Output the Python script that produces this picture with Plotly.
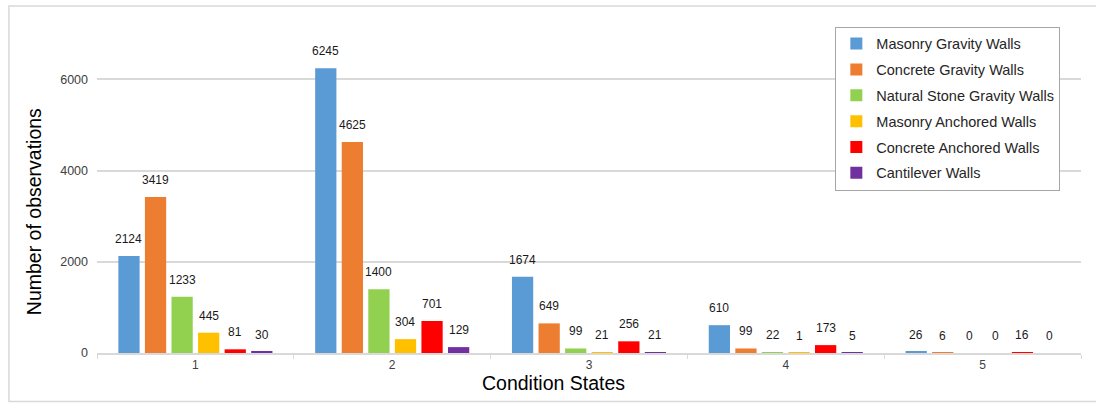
import plotly.graph_objects as go

# Observation counts per condition state, by wall type
states = ["1", "2", "3", "4", "5"]
series_names = [
    "Masonry Gravity Walls",
    "Concrete Gravity Walls",
    "Natural Stone Gravity Walls",
    "Masonry Anchored Walls",
    "Concrete Anchored Walls",
    "Cantilever Walls",
]
masonry_gravity = [2124, 6245, 1674, 610, 26]
concrete_gravity = [3419, 4625, 649, 99, 6]
natural_stone_gravity = [1233, 1400, 99, 22, 0]
masonry_anchored = [445, 304, 21, 1, 0]
concrete_anchored = [81, 701, 256, 173, 16]
cantilever = [30, 129, 21, 5, 0]

series_values = [
    masonry_gravity,
    concrete_gravity,
    natural_stone_gravity,
    masonry_anchored,
    concrete_anchored,
    cantilever,
]
colors = ["#5B9BD5", "#ED7D31", "#92D050", "#FFC000", "#FF0000", "#7030A0"]

BARGAP = 0.19
BARGROUPGAP = 0.2
FONT = "Liberation Sans, Arial, sans-serif"

fig = go.Figure()
n = len(series_names)
slot = (1 - BARGAP) / n
annotations = []
for i, (name, vals, col) in enumerate(zip(series_names, series_values, colors)):
    fig.add_trace(go.Bar(
        x=states, y=vals, name=name, legendgroup=name,
        marker=dict(color=col, line=dict(width=0)),
    ))
    offset = (i - (n - 1) / 2) * slot
    for j, v in enumerate(vals):
        annotations.append(dict(
            x=j + offset, y=v, xref="x", yref="y", text=str(v),
            showarrow=False, yanchor="bottom", yshift=8,
            font=dict(family=FONT, size=12, color="#1a1a1a"),
        ))

# axis titles
annotations.append(dict(
    x=-0.064, y=0.423, xref="paper", yref="paper", text="Number of observations",
    textangle=-90, showarrow=False, xanchor="center", yanchor="middle",
    font=dict(family=FONT, size=19.5, color="#000000"),
))
annotations.append(dict(
    x=0.464, y=-0.09, xref="paper", yref="paper", text="Condition States",
    showarrow=False, xanchor="center", yanchor="middle",
    font=dict(family=FONT, size=19.5, color="#000000"),
))

fig.update_layout(
    width=1096, height=403,
    margin=dict(l=97, r=15, t=20, b=50),
    paper_bgcolor="white", plot_bgcolor="white",
    barmode="group", bargap=BARGAP, bargroupgap=BARGROUPGAP,
    font=dict(family=FONT, size=12, color="#404040"),
    annotations=annotations,
    legend=dict(
        x=0.979, y=0.98, xanchor="right", yanchor="top",
        bordercolor="#a6a6a6", borderwidth=1, bgcolor="white",
        font=dict(family=FONT, size=14.5, color="#262626"),
        tracegroupgap=4, itemwidth=30,
    ),
    shapes=[dict(
        type="rect", xref="paper", yref="paper",
        x0=-0.0895, x1=1.03, y0=-0.146, y1=1.042,
        line=dict(color="#d9d9d9", width=1.5), layer="below",
    )],
)
fig.update_xaxes(
    type="category", showgrid=False, tickson="boundaries",
    ticks="outside", ticklen=4, tickcolor="#d9d9d9",
    showline=True, linecolor="#d9d9d9", linewidth=1.5,
    tickfont=dict(family=FONT, size=12, color="#404040"),
)
fig.update_yaxes(
    range=[0, 7300], tickvals=[0, 2000, 4000, 6000],
    showgrid=True, gridcolor="#d9d9d9", gridwidth=1.5,
    zeroline=False, showline=False, ticks="",
    ticklabelstandoff=8,
    tickfont=dict(family=FONT, size=12.5, color="#404040"),
)

fig.write_html("out.html")
